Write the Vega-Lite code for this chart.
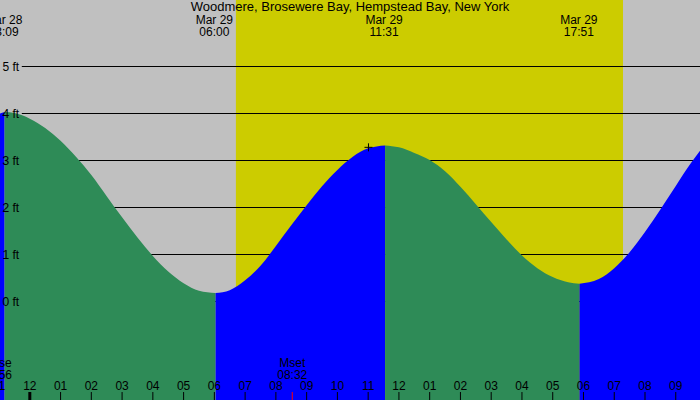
{
  "$schema": "https://vega.github.io/schema/vega-lite/v6.json",
  "width": 700,
  "height": 400,
  "autosize": {"type": "none"},
  "padding": 0,
  "background": "#c0c0c0",
  "config": {"view": {"stroke": null}, "font": "Liberation Sans"},
  "title": {"text": "Woodmere, Brosewere Bay, Hempstead Bay, New York", "anchor": "middle", "offset": -12, "dy": 12, "baseline": "alphabetic", "fontSize": 13, "fontWeight": "normal", "font": "Liberation Sans", "color": "#000000"},
  "datasets": {
    "tide": [
      {"t": -0.969, "ft": 4.0, "seg": "A", "dir": "rising"},
      {"t": -0.82, "ft": 4.03, "seg": "A", "dir": "rising"},
      {"t": -0.82, "ft": 4.03, "seg": "B", "dir": "falling"},
      {"t": -0.5, "ft": 4.01, "seg": "B", "dir": "falling"},
      {"t": 0, "ft": 3.89, "seg": "B", "dir": "falling"},
      {"t": 0.5, "ft": 3.69, "seg": "B", "dir": "falling"},
      {"t": 1, "ft": 3.42, "seg": "B", "dir": "falling"},
      {"t": 1.5, "ft": 3.08, "seg": "B", "dir": "falling"},
      {"t": 2, "ft": 2.69, "seg": "B", "dir": "falling"},
      {"t": 2.5, "ft": 2.24, "seg": "B", "dir": "falling"},
      {"t": 3, "ft": 1.79, "seg": "B", "dir": "falling"},
      {"t": 3.5, "ft": 1.36, "seg": "B", "dir": "falling"},
      {"t": 4, "ft": 0.97, "seg": "B", "dir": "falling"},
      {"t": 4.5, "ft": 0.64, "seg": "B", "dir": "falling"},
      {"t": 5, "ft": 0.39, "seg": "B", "dir": "falling"},
      {"t": 5.5, "ft": 0.23, "seg": "B", "dir": "falling"},
      {"t": 6.04, "ft": 0.18, "seg": "B", "dir": "falling"},
      {"t": 6.04, "ft": 0.18, "seg": "C", "dir": "rising"},
      {"t": 6.5, "ft": 0.24, "seg": "C", "dir": "rising"},
      {"t": 7, "ft": 0.45, "seg": "C", "dir": "rising"},
      {"t": 7.5, "ft": 0.76, "seg": "C", "dir": "rising"},
      {"t": 8, "ft": 1.18, "seg": "C", "dir": "rising"},
      {"t": 8.5, "ft": 1.62, "seg": "C", "dir": "rising"},
      {"t": 9, "ft": 2.05, "seg": "C", "dir": "rising"},
      {"t": 9.5, "ft": 2.45, "seg": "C", "dir": "rising"},
      {"t": 10, "ft": 2.8, "seg": "C", "dir": "rising"},
      {"t": 10.5, "ft": 3.08, "seg": "C", "dir": "rising"},
      {"t": 11, "ft": 3.26, "seg": "C", "dir": "rising"},
      {"t": 11.55, "ft": 3.32, "seg": "C", "dir": "rising"},
      {"t": 11.55, "ft": 3.32, "seg": "D", "dir": "falling"},
      {"t": 12, "ft": 3.28, "seg": "D", "dir": "falling"},
      {"t": 12.5, "ft": 3.16, "seg": "D", "dir": "falling"},
      {"t": 13, "ft": 3.01, "seg": "D", "dir": "falling"},
      {"t": 13.5, "ft": 2.77, "seg": "D", "dir": "falling"},
      {"t": 14, "ft": 2.44, "seg": "D", "dir": "falling"},
      {"t": 14.5, "ft": 2.07, "seg": "D", "dir": "falling"},
      {"t": 15, "ft": 1.69, "seg": "D", "dir": "falling"},
      {"t": 15.5, "ft": 1.32, "seg": "D", "dir": "falling"},
      {"t": 16, "ft": 0.98, "seg": "D", "dir": "falling"},
      {"t": 16.5, "ft": 0.71, "seg": "D", "dir": "falling"},
      {"t": 17, "ft": 0.52, "seg": "D", "dir": "falling"},
      {"t": 17.5, "ft": 0.41, "seg": "D", "dir": "falling"},
      {"t": 17.87, "ft": 0.38, "seg": "D", "dir": "falling"},
      {"t": 17.87, "ft": 0.38, "seg": "E", "dir": "rising"},
      {"t": 18.5, "ft": 0.48, "seg": "E", "dir": "rising"},
      {"t": 19, "ft": 0.71, "seg": "E", "dir": "rising"},
      {"t": 19.5, "ft": 1.05, "seg": "E", "dir": "rising"},
      {"t": 20, "ft": 1.48, "seg": "E", "dir": "rising"},
      {"t": 20.5, "ft": 1.96, "seg": "E", "dir": "rising"},
      {"t": 21, "ft": 2.46, "seg": "E", "dir": "rising"},
      {"t": 21.5, "ft": 2.95, "seg": "E", "dir": "rising"},
      {"t": 21.788, "ft": 3.21, "seg": "E", "dir": "rising"}
    ],
    "levels": [
      {"ft": 0, "label": "0 ft"},
      {"ft": 1, "label": "1 ft"},
      {"ft": 2, "label": "2 ft"},
      {"ft": 3, "label": "3 ft"},
      {"ft": 4, "label": "4 ft"},
      {"ft": 5, "label": "5 ft"}
    ],
    "hours": [
      {"t": -1, "label": "11"}, {"t": 0, "label": "12"}, {"t": 1, "label": "01"}, {"t": 2, "label": "02"},
      {"t": 3, "label": "03"}, {"t": 4, "label": "04"}, {"t": 5, "label": "05"}, {"t": 6, "label": "06"},
      {"t": 7, "label": "07"}, {"t": 8, "label": "08"}, {"t": 9, "label": "09"}, {"t": 10, "label": "10"},
      {"t": 11, "label": "11"}, {"t": 12, "label": "12"}, {"t": 13, "label": "01"}, {"t": 14, "label": "02"},
      {"t": 15, "label": "03"}, {"t": 16, "label": "04"}, {"t": 17, "label": "05"}, {"t": 18, "label": "06"},
      {"t": 19, "label": "07"}, {"t": 20, "label": "08"}, {"t": 21, "label": "09"}
    ],
    "extremes": [
      {"t": -0.85, "label": "Mar 28\n23:09"},
      {"t": 6.0, "label": "Mar 29\n06:00"},
      {"t": 11.517, "label": "Mar 29\n11:31"},
      {"t": 17.85, "label": "Mar 29\n17:51"}
    ],
    "sun": [{"rise": 6.7, "set": 19.285}],
    "moon": [
      {"t": -1.067, "label": "Mrise\n22:56"},
      {"t": 8.533, "label": "Mset\n08:32"}
    ],
    "moonset": [{"t": 8.533}],
    "midnight": [{"t": 0}],
    "now": [{"t": 11.01, "ft": 3.28}]
  },
  "layer": [
    {
      "data": {"name": "sun"},
      "mark": {"type": "rect", "fill": "#cccc00"},
      "encoding": {
        "x": {"field": "rise", "type": "quantitative", "scale": {"domain": [-0.969, 21.788], "nice": false, "zero": false}, "axis": null},
        "x2": {"field": "set"}
      }
    },
    {
      "data": {"name": "levels"},
      "mark": {"type": "rule", "color": "#000000", "strokeWidth": 1},
      "encoding": {
        "y": {"field": "ft", "type": "quantitative", "scale": {"domain": [-2.0957, 6.4149], "nice": false, "zero": false}, "axis": null},
        "x": {"datum": -0.26, "type": "quantitative"},
        "x2": {"datum": 21.788}
      }
    },
    {
      "data": {"name": "tide"},
      "mark": {"type": "area", "interpolate": "monotone", "opacity": 1},
      "encoding": {
        "x": {"field": "t", "type": "quantitative"},
        "y": {"field": "ft", "type": "quantitative", "stack": null},
        "y2": {"datum": -2.0957},
        "color": {"field": "dir", "type": "nominal", "scale": {"domain": ["rising", "falling"], "range": ["#0000ff", "#2e8b57"]}, "legend": null},
        "detail": {"field": "seg"}
      }
    },
    {
      "data": {"name": "levels"},
      "mark": {"type": "text", "align": "left", "baseline": "middle", "fontSize": 12, "font": "Liberation Sans", "color": "#000000"},
      "encoding": {
        "x": {"datum": -0.89, "type": "quantitative"},
        "y": {"field": "ft", "type": "quantitative"},
        "text": {"field": "label"}
      }
    },
    {
      "data": {"name": "hours"},
      "mark": {"type": "rule", "color": "#000000", "strokeWidth": 1},
      "encoding": {
        "x": {"field": "t", "type": "quantitative"},
        "y": {"datum": -1.926, "type": "quantitative"},
        "y2": {"datum": -2.0957}
      }
    },
    {
      "data": {"name": "hours"},
      "mark": {"type": "text", "align": "center", "baseline": "alphabetic", "fontSize": 12, "font": "Liberation Sans", "color": "#000000"},
      "encoding": {
        "x": {"field": "t", "type": "quantitative"},
        "y": {"datum": -1.883, "type": "quantitative"},
        "text": {"field": "label"}
      }
    },
    {
      "data": {"name": "extremes"},
      "mark": {"type": "text", "align": "center", "baseline": "alphabetic", "fontSize": 12, "lineHeight": 12, "lineBreak": "\n", "font": "Liberation Sans", "color": "#000000"},
      "encoding": {
        "x": {"field": "t", "type": "quantitative"},
        "y": {"datum": 5.894, "type": "quantitative"},
        "text": {"field": "label"}
      }
    },
    {
      "data": {"name": "moon"},
      "mark": {"type": "text", "align": "center", "baseline": "alphabetic", "fontSize": 12, "lineHeight": 12, "lineBreak": "\n", "font": "Liberation Sans", "color": "#000000"},
      "encoding": {
        "x": {"field": "t", "type": "quantitative"},
        "y": {"datum": -1.383, "type": "quantitative"},
        "text": {"field": "label"}
      }
    },
    {
      "data": {"name": "now"},
      "mark": {"type": "point", "shape": "M-1,0H1M0,-1V1", "filled": false, "stroke": "#000000", "strokeWidth": 1, "size": 64, "opacity": 1},
      "encoding": {
        "x": {"field": "t", "type": "quantitative"},
        "y": {"field": "ft", "type": "quantitative"}
      }
    },
    {
      "data": {"name": "midnight"},
      "mark": {"type": "rule", "color": "#000000", "strokeWidth": 3},
      "encoding": {
        "x": {"field": "t", "type": "quantitative"},
        "y": {"datum": -1.926, "type": "quantitative"},
        "y2": {"datum": -2.0957}
      }
    },
    {
      "data": {"name": "moonset"},
      "mark": {"type": "rule", "color": "#ff0000", "strokeWidth": 1},
      "encoding": {
        "x": {"field": "t", "type": "quantitative"},
        "y": {"datum": -1.926, "type": "quantitative"},
        "y2": {"datum": -2.0957}
      }
    }
  ]
}
